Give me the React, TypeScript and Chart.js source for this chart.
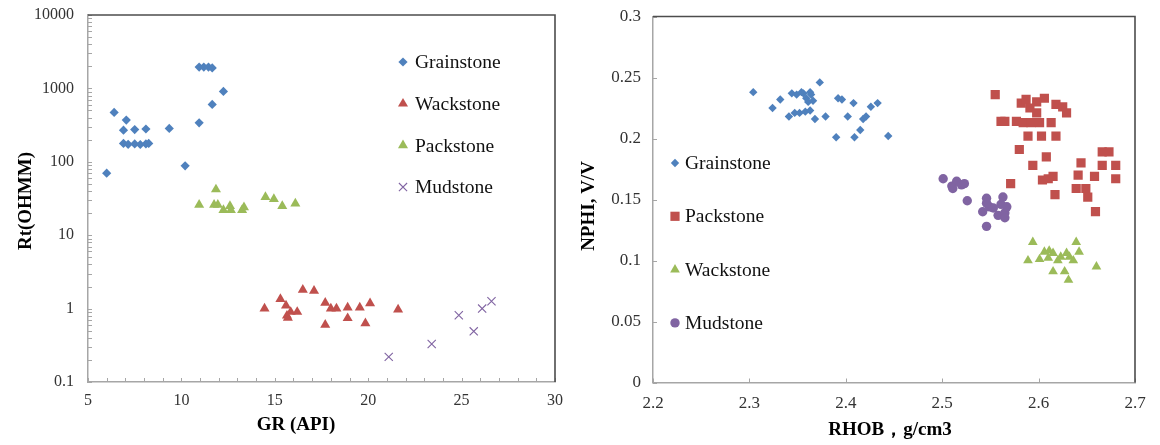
import React, { useEffect, useRef } from 'react';
import { Chart, registerables } from 'chart.js';

Chart.register(...registerables);

const FONT = '"Liberation Serif", "Times New Roman", serif';
const BLUE = '#4F81BD';
const RED = '#C0504D';
const GREEN = '#9BBB59';
const PURPLE = '#8064A2';
const AXIS = '#A6A6A6';
const FRAME = '#4D4D4D';
const TICKTXT = '#333333';

// ---------------- Left chart: GR vs Rt ----------------
const grainGR = [6.0, 6.4, 7.05, 6.9, 7.5, 8.1, 6.9, 7.15, 7.5, 7.8, 8.1, 8.25, 9.35, 10.2, 10.95, 10.95, 11.2, 11.45, 11.65, 11.65, 12.25];
const grainRt = [70, 470, 370, 270, 275, 280, 178, 173, 175, 172, 175, 178, 285, 88, 340, 1950, 1950, 1950, 1900, 605, 910];

const wackGR = [14.45, 15.3, 15.6, 15.65, 15.7, 15.85, 16.2, 16.5, 17.1, 17.7, 17.7, 18.0, 18.3, 18.9, 18.9, 19.55, 19.85, 20.1, 21.6];
const wackRt = [1.0, 1.35, 1.1, 0.8, 0.75, 0.9, 0.9, 1.8, 1.75, 1.2, 0.6, 1.0, 1.0, 1.03, 0.74, 1.03, 0.63, 1.18, 0.97];

const packGR = [10.95, 11.85, 11.75, 11.95, 12.25, 12.6, 12.65, 13.25, 13.35, 14.5, 14.95, 15.4, 16.1];
const packRt = [26, 42, 26, 26, 22, 25, 22, 22, 24, 33, 31, 25, 27];

const mudGR = [21.1, 23.4, 24.85, 25.65, 26.1, 26.6];
const mudRt = [0.22, 0.33, 0.81, 0.49, 1.0, 1.26];

const rtMajorTicks = [0.1, 1, 10, 100, 1000, 10000];
const grTickLabels = [5, 10, 15, 20, 25, 30];

// ---------------- Right chart: RHOB vs NPHI ----------------
const grainRHOB = [2.304, 2.324, 2.332, 2.344, 2.349, 2.356, 2.363, 2.359, 2.364, 2.361, 2.341, 2.347, 2.352, 2.358, 2.363, 2.368, 2.373, 2.379, 2.392, 2.396, 2.402, 2.408, 2.390, 2.409, 2.415, 2.418, 2.421, 2.426, 2.433, 2.444, 2.354, 2.366];
const grainNPHI = [0.238, 0.225, 0.232, 0.237, 0.236, 0.237, 0.238, 0.233, 0.236, 0.230, 0.218, 0.221, 0.221, 0.222, 0.223, 0.216, 0.246, 0.218, 0.233, 0.232, 0.218, 0.229, 0.201, 0.201, 0.207, 0.216, 0.218, 0.226, 0.229, 0.202, 0.238, 0.231];

const packRHOB = [2.555, 2.582, 2.587, 2.598, 2.606, 2.618, 2.625, 2.629, 2.591, 2.598, 2.561, 2.565, 2.577, 2.584, 2.592, 2.601, 2.613, 2.589, 2.603, 2.618, 2.580, 2.608, 2.594, 2.604, 2.610, 2.615, 2.571, 2.617, 2.644, 2.641, 2.639, 2.649, 2.651, 2.658, 2.666, 2.673, 2.666, 2.680, 2.680, 2.659];
const packNPHI = [0.236, 0.229, 0.232, 0.230, 0.233, 0.228, 0.226, 0.221, 0.225, 0.221, 0.214, 0.214, 0.214, 0.213, 0.213, 0.213, 0.213, 0.202, 0.202, 0.202, 0.191, 0.185, 0.178, 0.166, 0.167, 0.169, 0.163, 0.154, 0.180, 0.170, 0.159, 0.159, 0.152, 0.169, 0.189, 0.189, 0.178, 0.178, 0.167, 0.140];

const wackRHOB = [2.594, 2.639, 2.642, 2.589, 2.601, 2.606, 2.611, 2.615, 2.610, 2.620, 2.623, 2.629, 2.632, 2.636, 2.615, 2.627, 2.631, 2.660];
const wackNPHI = [0.115, 0.115, 0.107, 0.100, 0.101, 0.107, 0.108, 0.106, 0.102, 0.100, 0.103, 0.106, 0.103, 0.100, 0.091, 0.091, 0.084, 0.095];

const mudRHOB = [2.501, 2.510, 2.515, 2.520, 2.523, 2.511, 2.526, 2.546, 2.563, 2.542, 2.549, 2.558, 2.565, 2.567, 2.561, 2.553, 2.546, 2.565, 2.546];
const mudNPHI = [0.167, 0.161, 0.165, 0.162, 0.163, 0.159, 0.149, 0.151, 0.152, 0.140, 0.144, 0.137, 0.139, 0.144, 0.146, 0.143, 0.128, 0.135, 0.147];

const zip = (xs: number[], ys: number[]) => xs.map((x, i) => ({ x, y: ys[i] }));

type Marker = { style: string; r: number; color: string; line?: number };

function drawMarker(ctx: CanvasRenderingContext2D, m: Marker, x: number, y: number) {
  const r = m.r;
  ctx.save();
  ctx.fillStyle = m.color;
  ctx.strokeStyle = m.color;
  ctx.beginPath();
  if (m.style === 'rectRot') {
    ctx.moveTo(x - r, y); ctx.lineTo(x, y - r); ctx.lineTo(x + r, y); ctx.lineTo(x, y + r); ctx.closePath(); ctx.fill();
  } else if (m.style === 'triangle') {
    ctx.moveTo(x, y - r); ctx.lineTo(x + 0.866 * r, y + 0.5 * r); ctx.lineTo(x - 0.866 * r, y + 0.5 * r); ctx.closePath(); ctx.fill();
  } else if (m.style === 'rect') {
    const h = r * Math.SQRT1_2; ctx.rect(x - h, y - h, 2 * h, 2 * h); ctx.fill();
  } else if (m.style === 'circle') {
    ctx.arc(x, y, r, 0, Math.PI * 2); ctx.fill();
  } else if (m.style === 'crossRot') {
    const h = r * Math.SQRT1_2; ctx.lineWidth = m.line || 1.2;
    ctx.moveTo(x - h, y - h); ctx.lineTo(x + h, y + h); ctx.moveTo(x + h, y - h); ctx.lineTo(x - h, y + h); ctx.stroke();
  }
  ctx.restore();
}

const decoPlugin = {
  id: 'deco',
  afterDraw(chart: any, _args: any, opts: any) {
    const ctx: CanvasRenderingContext2D = chart.ctx;
    const a = chart.chartArea;
    const xs = chart.scales.x;
    const ys = chart.scales.y;
    ctx.save();
    // inward tick marks
    ctx.strokeStyle = AXIS;
    ctx.lineWidth = 1;
    xs.ticks.forEach((t: any) => {
      const px = Math.round(xs.getPixelForValue(t.value)) + 0.5;
      ctx.beginPath(); ctx.moveTo(px, a.bottom); ctx.lineTo(px, a.bottom - opts.tickLen); ctx.stroke();
    });
    ys.ticks.forEach((t: any) => {
      const py = Math.round(ys.getPixelForValue(t.value)) + 0.5;
      ctx.beginPath(); ctx.moveTo(a.left, py); ctx.lineTo(a.left + opts.tickLen, py); ctx.stroke();
    });
    // top / right frame
    ctx.strokeStyle = FRAME;
    ctx.lineWidth = 1.6;
    ctx.beginPath(); ctx.moveTo(a.left, a.top); ctx.lineTo(a.right, a.top); ctx.lineTo(a.right, a.bottom); ctx.stroke();
    // axis titles
    ctx.fillStyle = '#000';
    ctx.font = `bold ${opts.titleSize}px ${FONT}`;
    ctx.textAlign = 'center';
    ctx.textBaseline = 'middle';
    ctx.fillText(opts.xTitle, opts.xTitlePos[0], opts.xTitlePos[1]);
    ctx.save();
    ctx.translate(opts.yTitlePos[0], opts.yTitlePos[1]);
    ctx.rotate(-Math.PI / 2);
    ctx.fillText(opts.yTitle, 0, 0);
    ctx.restore();
    // legend
    ctx.font = `${opts.legendSize}px ${FONT}`;
    ctx.textAlign = 'left';
    opts.legend.forEach((item: any, i: number) => {
      const y = opts.legendY + i * opts.legendGap;
      drawMarker(ctx, item.marker, opts.legendX, y);
      ctx.fillStyle = '#111';
      ctx.fillText(item.label, opts.legendX + opts.legendTextGap, y + 1);
    });
    ctx.restore();
  },
};

function ScatterChart({ width, config }: { width: number; config: any }) {
  const ref = useRef<HTMLCanvasElement>(null);
  useEffect(() => {
    const chart = new Chart(ref.current as HTMLCanvasElement, config);
    return () => chart.destroy();
  }, []);
  return <canvas ref={ref} width={width} height={445} style={{ width, height: 445, display: 'block' }} />;
}

const ds = (label: string, data: any[], m: Marker) => ({
  label,
  data,
  pointStyle: m.style,
  pointRadius: m.r,
  pointBackgroundColor: m.color,
  pointBorderColor: m.color,
  pointBorderWidth: m.style === 'crossRot' ? (m.line || 1.2) : 0,
  showLine: false,
});

const leftMarkers: Record<string, Marker> = {
  grain: { style: 'rectRot', r: 4.6, color: BLUE },
  wack: { style: 'triangle', r: 5.8, color: RED },
  pack: { style: 'triangle', r: 5.8, color: GREEN },
  mud: { style: 'crossRot', r: 5.8, color: PURPLE, line: 1.1 },
};
const rightMarkers: Record<string, Marker> = {
  grain: { style: 'rectRot', r: 4.2, color: BLUE },
  pack: { style: 'rect', r: 6.5, color: RED },
  wack: { style: 'triangle', r: 5.6, color: GREEN },
  mud: { style: 'circle', r: 4.7, color: PURPLE },
};

const noYPad = (w: number) => (s: any) => { s.width = w; s.paddingTop = 0; s.paddingBottom = 0; };
const noXPad = (h: number) => (s: any) => { s.height = h; s.paddingLeft = 0; s.paddingRight = 0; };

const leftConfig = {
  type: 'scatter',
  data: {
    datasets: [
      ds('Grainstone', zip(grainGR, grainRt), leftMarkers.grain),
      ds('Wackstone', zip(wackGR, wackRt), leftMarkers.wack),
      ds('Packstone', zip(packGR, packRt), leftMarkers.pack),
      ds('Mudstone', zip(mudGR, mudRt), leftMarkers.mud),
    ],
  },
  options: {
    responsive: false,
    animation: false,
    layout: { padding: { top: 15, right: 15, left: 0, bottom: 0 } },
    plugins: {
      legend: { display: false },
      tooltip: { enabled: false },
      deco: {
        tickLen: 4,
        titleSize: 19,
        xTitle: 'GR (API)',
        xTitlePos: [296, 425],
        yTitle: 'Rt(OHMM)',
        yTitlePos: [26, 201],
        legendSize: 19.5,
        legendX: 403,
        legendY: 62,
        legendGap: 41.7,
        legendTextGap: 12,
        legend: [
          { label: 'Grainstone', marker: leftMarkers.grain },
          { label: 'Wackstone', marker: leftMarkers.wack },
          { label: 'Packstone', marker: leftMarkers.pack },
          { label: 'Mudstone', marker: leftMarkers.mud },
        ],
      },
    },
    scales: {
      x: {
        type: 'linear',
        min: 5,
        max: 30,
        grid: { display: false, drawTicks: false },
        border: { display: true, color: AXIS, width: 1.5 },
        ticks: {
          stepSize: 1,
          autoSkip: false,
          maxRotation: 0,
          padding: 9,
          color: TICKTXT,
          font: { family: FONT, size: 16 },
          callback: (v: number) => (grTickLabels.includes(v) ? String(v) : ''),
        },
        afterFit: noXPad(63),
      },
      y: {
        type: 'logarithmic',
        min: 0.1,
        max: 10000,
        grid: { display: false, drawTicks: false },
        border: { display: true, color: AXIS, width: 1.5 },
        afterBuildTicks: (s: any) => {
          const t: any[] = [];
          for (let i = 0; i < rtMajorTicks.length - 1; i++) {
            for (let m = 1; m < 10; m++) t.push({ value: rtMajorTicks[i] * m });
          }
          t.push({ value: rtMajorTicks[rtMajorTicks.length - 1] });
          s.ticks = t;
        },
        ticks: {
          autoSkip: false,
          padding: 14,
          color: TICKTXT,
          font: { family: FONT, size: 16 },
          callback: (v: number) => {
            const f = rtMajorTicks.find((d) => Math.abs(d - v) < d * 1e-6);
            return f !== undefined ? String(f) : '';
          },
        },
        afterFit: noYPad(88),
      },
    },
  },
  plugins: [decoPlugin],
};

const rightConfig = {
  type: 'scatter',
  data: {
    datasets: [
      ds('Grainstone', zip(grainRHOB, grainNPHI), rightMarkers.grain),
      ds('Packstone', zip(packRHOB, packNPHI), rightMarkers.pack),
      ds('Wackstone', zip(wackRHOB, wackNPHI), rightMarkers.wack),
      ds('Mudstone', zip(mudRHOB, mudNPHI), rightMarkers.mud),
    ],
  },
  options: {
    responsive: false,
    animation: false,
    layout: { padding: { top: 16.5, right: 25, left: 0, bottom: 0 } },
    plugins: {
      legend: { display: false },
      tooltip: { enabled: false },
      deco: {
        tickLen: 4,
        titleSize: 19,
        xTitle: 'RHOB，g/cm3',
        xTitlePos: [320, 430],
        yTitle: 'NPHI, V/V',
        yTitlePos: [19, 206],
        legendSize: 19.5,
        legendX: 105,
        legendY: 163,
        legendGap: 53.3,
        legendTextGap: 10,
        legend: [
          { label: 'Grainstone', marker: rightMarkers.grain },
          { label: 'Packstone', marker: rightMarkers.pack },
          { label: 'Wackstone', marker: rightMarkers.wack },
          { label: 'Mudstone', marker: rightMarkers.mud },
        ],
      },
    },
    scales: {
      x: {
        type: 'linear',
        min: 2.2,
        max: 2.7,
        grid: { display: false, drawTicks: false },
        border: { display: true, color: AXIS, width: 1.5 },
        ticks: {
          stepSize: 0.1,
          autoSkip: false,
          maxRotation: 0,
          padding: 11,
          color: TICKTXT,
          font: { family: FONT, size: 17 },
          callback: (v: number) => v.toFixed(1),
        },
        afterFit: noXPad(62.5),
      },
      y: {
        type: 'linear',
        min: 0,
        max: 0.3,
        grid: { display: false, drawTicks: false },
        border: { display: true, color: AXIS, width: 1.5 },
        ticks: {
          stepSize: 0.05,
          autoSkip: false,
          padding: 12,
          color: TICKTXT,
          font: { family: FONT, size: 17 },
          callback: (v: number) => String(Number(v.toFixed(2))),
        },
        afterFit: noYPad(83),
      },
    },
  },
  plugins: [decoPlugin],
};

export default function App() {
  return (
    <div style={{ position: 'absolute', left: 0, top: 0, width: 1160, height: 445, background: '#fff', overflow: 'hidden' }}>
      <div style={{ position: 'absolute', left: 0, top: 0 }}>
        <ScatterChart width={570} config={leftConfig} />
      </div>
      <div style={{ position: 'absolute', left: 570, top: 0 }}>
        <ScatterChart width={590} config={rightConfig} />
      </div>
    </div>
  );
}
